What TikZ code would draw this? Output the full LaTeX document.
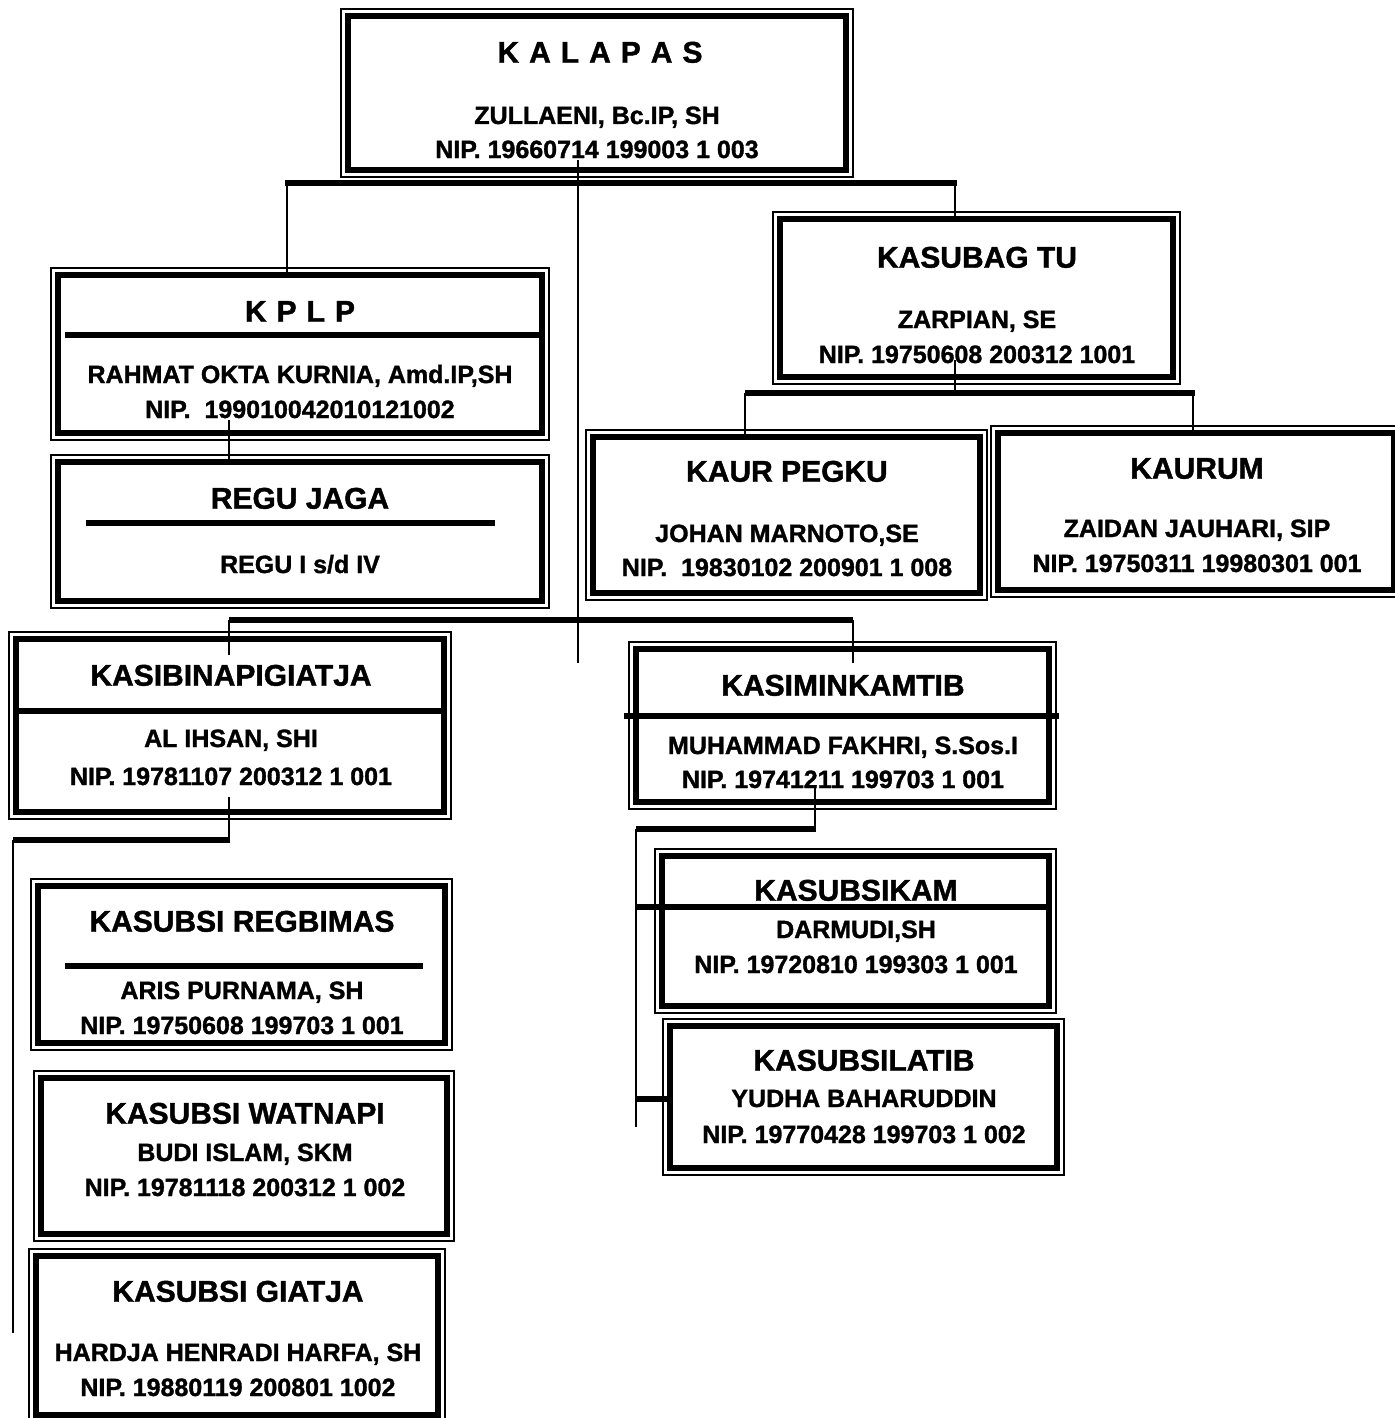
\documentclass[tikz,border=0pt]{standalone}
\usepackage{fontspec}
\setmainfont{Liberation Sans}[BoldFeatures={FakeBold=1.3}]
\usetikzlibrary{calc}
\tikzset{
  ibox/.style={draw, line width=2.6pt, inner sep=0pt, outer sep=0pt},
  othin/.style={line width=0.7pt},
  ttl/.style={font=\bfseries\fontsize{15}{17}\selectfont, inner sep=0pt, text height=10.7pt, text depth=0pt},
  txt/.style={font=\bfseries\fontsize{12.5}{14}\selectfont, inner sep=0pt, text height=9pt, text depth=0pt},
  divider/.style={line width=2.6pt},
  vconn/.style={line width=1pt},
  hconn/.style={line width=2.8pt},
}
\newcommand\orgbox[5]{%
  \node[ibox, minimum width={(#4-#2-14)*0.5pt}, minimum height={(#5-#3-14)*0.5pt}] (#1) at ({(#2+#4)/2},{(#3+#5)/2}) {};
  \draw[othin] ([shift={(-3.5pt,3.5pt)}]#1.north west) rectangle ([shift={(3.5pt,-3.5pt)}]#1.south east);
}
\begin{document}
\begin{tikzpicture}[x=0.5pt,y=-0.5pt]
\useasboundingbox (0,0) rectangle (1395,1418);
\clip (0,0) rectangle (1395,1418);

% ---------- texts ----------
\node[ttl] (t1a) at (600,52) {K\,\,A\,\,L\,\,A\,\,P\,\,A\,\,S};
\node[txt] (t1b) at (597,115) {ZULLAENI, Bc.IP, SH};
\node[txt] (t1c) at (597,149) {NIP. 19660714 199003 1 003};

\node[ttl] (t2a) at (300,311) {K\,\,P\,\,L\,\,P};
\node[txt] (t2b) at (300,374) {RAHMAT OKTA KURNIA, Amd.IP,SH};
\node[txt] (t2c) at (300,409) {NIP.\ \ 199010042010121002};

\node[ttl] (t3a) at (300,498) {REGU JAGA};
\node[txt] (t3b) at (300,564) {REGU I s/d IV};

\node[ttl] (t4a) at (977,257) {KASUBAG TU};
\node[txt] (t4b) at (977,319) {ZARPIAN, SE};
\node[txt] (t4c) at (977,354) {NIP. 19750608 200312 1001};

\node[ttl] (t5a) at (787,471) {KAUR PEGKU};
\node[txt] (t5b) at (787,533) {JOHAN MARNOTO,SE};
\node[txt] (t5c) at (787,567) {NIP.\ \ 19830102 200901 1 008};

\node[ttl] (t6a) at (1197,468) {KAURUM};
\node[txt] (t6b) at (1197,528) {ZAIDAN JAUHARI, SIP};
\node[txt] (t6c) at (1197,563) {NIP. 19750311 19980301 001};

\node[ttl] (t7a) at (231,675) {KASIBINAPIGIATJA};
\node[txt] (t7b) at (231,738) {AL IHSAN, SHI};
\node[txt] (t7c) at (231,776) {NIP. 19781107 200312 1 001};

\node[ttl] (t8a) at (843,685) {KASIMINKAMTIB};
\node[txt] (t8b) at (843,745) {MUHAMMAD FAKHRI, S.Sos.I};
\node[txt] (t8c) at (843,779) {NIP. 19741211 199703 1 001};

\node[ttl] (t9a) at (856,890) {KASUBSIKAM};
\node[txt] (t9b) at (856,929) {DARMUDI,SH};
\node[txt] (t9c) at (856,964) {NIP. 19720810 199303 1 001};

\node[ttl] (t10a) at (864,1060) {KASUBSILATIB};
\node[txt] (t10b) at (864,1098) {YUDHA BAHARUDDIN};
\node[txt] (t10c) at (864,1134) {NIP. 19770428 199703 1 002};

\node[ttl] (t11a) at (242,921) {KASUBSI REGBIMAS};
\node[txt] (t11b) at (242,990) {ARIS PURNAMA, SH};
\node[txt] (t11c) at (242,1025) {NIP. 19750608 199703 1 001};

\node[ttl] (t12a) at (245,1113) {KASUBSI WATNAPI};
\node[txt] (t12b) at (245,1152) {BUDI ISLAM, SKM};
\node[txt] (t12c) at (245,1187) {NIP. 19781118 200312 1 002};

\node[ttl] (t13a) at (238,1291) {KASUBSI GIATJA};
\node[txt] (t13b) at (238,1352) {HARDJA HENRADI HARFA, SH};
\node[txt] (t13c) at (238,1387) {NIP. 19880119 200801 1002};

% ---------- boxes ----------
\orgbox{kalapas}{341}{9}{853}{177}
\orgbox{kplp}{51}{268}{549}{440}
\orgbox{regu}{51}{455}{549}{608}
\orgbox{kasubag}{773}{212}{1180}{384}
\orgbox{kaur}{586}{430}{987}{600}
\orgbox{kaurum}{991}{426}{1401}{597}
\orgbox{kasibina}{9}{632}{451}{819}
\orgbox{kasimin}{629}{642}{1056}{809}
\orgbox{kasubsikam}{655}{849}{1056}{1013}
\orgbox{kasubsilatib}{663}{1019}{1064}{1175}
\orgbox{regbimas}{31}{879}{452}{1050}
\orgbox{watnapi}{34}{1071}{454}{1241}
\orgbox{giatja}{29}{1249}{445}{1422}

% ---------- dividers ----------
\draw[divider] (65,335) -- (540,335);
\draw[divider] (86,523) -- (495,523);
\draw[divider] (15,711) -- (445,711);
\draw[divider] (624,716) -- (1059,716);
\draw[divider] (65,966) -- (423,966);

% ---------- junction coordinates ----------
\coordinate (k0) at (578,160);
\coordinate (k1) at (578,663);
\coordinate (h1l) at (287,183);
\coordinate (h1r) at (955,183);
\coordinate (j2) at (229,420);
\coordinate (h2l) at (229,620);
\coordinate (h2r) at (853,620);
\coordinate (e2l) at (229,655);
\coordinate (e2r) at (853,663);
\coordinate (j3) at (229,797);
\coordinate (h3r) at (229,840);
\coordinate (h3l) at (13,840);
\coordinate (e3) at (13,1333);
\coordinate (j4) at (815,788);
\coordinate (h4r) at (815,829);
\coordinate (h4l) at (636,829);
\coordinate (e4) at (636,1127);
\coordinate (h5l) at (636,907);
\coordinate (h5r) at (1052,907);
\coordinate (h6l) at (636,1099);
\coordinate (j5) at (955,360);
\coordinate (h7c) at (955,393);
\coordinate (h7l) at (745,393);
\coordinate (h7r) at (1193,393);

% ---------- connectors ----------
\draw[vconn] (k0) -- (k1);
\draw[hconn] ([xshift=-1pt]h1l) -- ([xshift=1pt]h1r);
\draw[vconn] (h1l) -- (h1l |- kplp.north);
\draw[vconn] (h1r) -- (h1r |- kasubag.north);
\draw[vconn] (j2) -- (j2 |- regu.north);
\draw[hconn] (h2l) -- (h2r);
\draw[vconn] (h2l) -- (e2l);
\draw[vconn] (h2r) -- (e2r);
\draw[vconn] (j3) -- (h3r);
\draw[hconn] ([xshift=0.5pt]h3r) -- (h3l);
\draw[vconn] (h3l) -- (e3);
\draw[vconn] (j4) -- (h4r);
\draw[hconn] ([xshift=0.5pt]h4r) -- (h4l);
\draw[vconn] (h4l) -- (e4);
\draw[hconn] (h5l) -- (h5r);
\draw[hconn] (h6l) -- (h6l -| kasubsilatib.west);
\draw[vconn] (j5) -- (h7c);
\draw[hconn] (h7l) -- ([xshift=1pt]h7r);
\draw[vconn] (h7l) -- (h7l |- kaur.north);
\draw[vconn] (h7r) -- (h7r |- kaurum.north);
\end{tikzpicture}
\end{document}
